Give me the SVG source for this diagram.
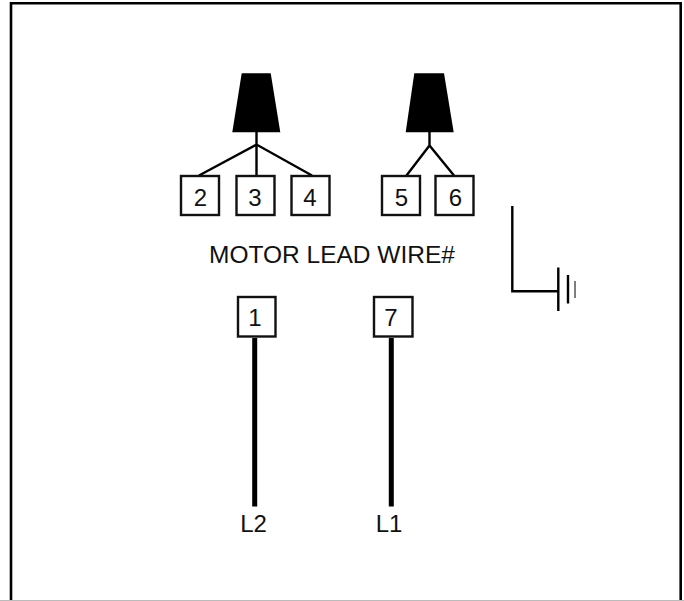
<svg xmlns="http://www.w3.org/2000/svg" width="684" height="601" viewBox="0 0 684 601">
<style>
text{font-family:"Liberation Sans",Arial,sans-serif;font-size:24px;fill:#111;text-anchor:middle}
.box{fill:#fff;stroke:#111;stroke-width:2.400}
.wire{fill:none;stroke:#000;stroke-width:2.400}
.thick{fill:none;stroke:#000;stroke-width:5}
.plug{fill:#000}
</style>
<rect width="684" height="601" fill="#fff"/>
<path d="M11 601V3.200H680.700V601" fill="none" stroke="#000" stroke-width="2.600"/>
<rect y="600" width="684" height="1" fill="#bbb"/>
<g id="connectors">
<path class="wire" d="M256.500 132V144.500M199 175.500L256.500 144.500L312 175.500M256.500 144.500V176"/>
<path class="wire" d="M429.500 132V145.500M406.500 175.500L429.500 145.500L454 175.500"/>
<path class="thick" d="M254.700 338V506.500"/>
<path class="thick" d="M391.300 338V506.500"/>
</g>
<g id="plug-left"><polygon class="plug" points="241.700,73.300 270.700,73.300 280.300,132.300 232.300,132.300"/></g>
<g id="plug-right"><polygon class="plug" points="414.300,73.300 444,73.300 453.700,132.300 405.700,132.300"/></g>
<g id="node-2"><rect class="box" x="181" y="176" width="38" height="39"/><text x="200.500" y="205.700">2</text></g>
<g id="node-3"><rect class="box" x="236.500" y="176" width="38" height="39"/><text x="255" y="205.700">3</text></g>
<g id="node-4"><rect class="box" x="291.500" y="176" width="38" height="39"/><text x="310" y="205.700">4</text></g>
<g id="node-5"><rect class="box" x="382" y="176" width="38" height="39"/><text x="401.500" y="205.700">5</text></g>
<g id="node-6"><rect class="box" x="435.500" y="176" width="38" height="39"/><text x="455.500" y="205.700">6</text></g>
<g id="label"><text x="332" y="263" style="font-size:24.500px">MOTOR LEAD WIRE#</text></g>
<g id="ground">
<path class="wire" d="M512.300 206V291.200H558"/>
<path class="wire" d="M558.300 267.500V311M568 275V303.500"/>
<path d="M575 281V298" fill="none" stroke="#555" stroke-width="1.500"/>
</g>
<g id="node-1"><rect class="box" x="238" y="297" width="37.500" height="39.500"/><text x="255" y="325.500">1</text></g>
<g id="node-7"><rect class="box" x="374" y="297" width="38.500" height="39.500"/><text x="391" y="325.500">7</text></g>
<g id="label-l2"><text x="253.500" y="531.700">L2</text></g>
<g id="label-l1"><text x="389" y="531.700">L1</text></g>
</svg>
